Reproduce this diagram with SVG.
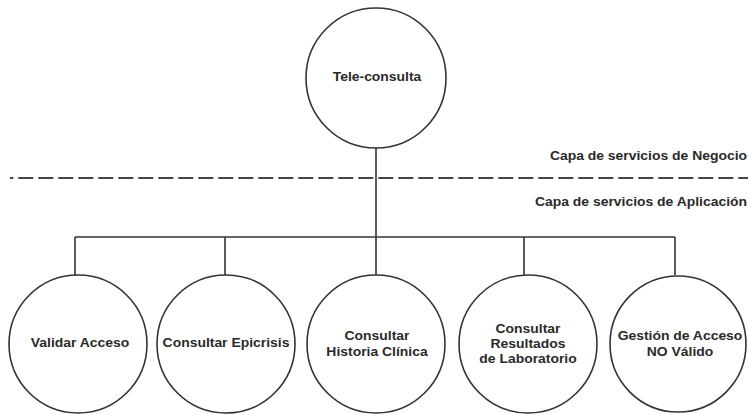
<svg xmlns="http://www.w3.org/2000/svg" width="748" height="414" viewBox="0 0 748 414">
<style>
.node{fill:#fff;stroke:#333;stroke-width:1.6}
.lbl{font-family:"Liberation Sans",Arial,sans-serif;font-weight:bold;font-size:12px;fill:#2a2a2a;text-anchor:middle}
.lay{font-family:"Liberation Sans",Arial,sans-serif;font-weight:bold;font-size:12px;fill:#2a2a2a;text-anchor:end}
.con{stroke:#333;stroke-width:1.6;fill:none}
</style>
<rect width="748" height="414" fill="#fff"/>
<g id="layers">
<line x1="10" y1="178" x2="748" y2="178" stroke="#444" stroke-width="2" stroke-dasharray="15 5" stroke-dashoffset="11.7"/>
<text class="lay" transform="translate(747,160) scale(1.16,1)">Capa de servicios de Negocio</text>
<text class="lay" transform="translate(747,206) scale(1.16,1)">Capa de servicios de Aplicación</text>
</g>
<g id="connectors">
<line class="con" x1="376" y1="148" x2="376" y2="237"/>
<line class="con" x1="75" y1="237" x2="675" y2="237"/>
<line class="con" x1="75" y1="237" x2="75" y2="275"/>
<line class="con" x1="225" y1="237" x2="225" y2="275"/>
<line class="con" x1="376" y1="237" x2="376" y2="275"/>
<line class="con" x1="524" y1="237" x2="524" y2="275"/>
<line class="con" x1="675" y1="237" x2="675" y2="275"/>
</g>
<g id="tele-consulta">
<circle class="node" cx="376" cy="78" r="70"/>
<text class="lbl" transform="translate(377,81) scale(1.16,1)">Tele-consulta</text>
</g>
<g id="validar-acceso">
<circle class="node" cx="78" cy="344" r="69"/>
<text class="lbl" transform="translate(80,347) scale(1.16,1)">Validar Acceso</text>
</g>
<g id="consultar-epicrisis">
<circle class="node" cx="226" cy="344" r="69"/>
<text class="lbl" transform="translate(226,347) scale(1.16,1)">Consultar Epicrisis</text>
</g>
<g id="consultar-historia">
<circle class="node" cx="376" cy="344" r="69"/>
<text class="lbl" transform="translate(377,340) scale(1.16,1)"><tspan x="0">Consultar</tspan><tspan x="0" dy="16">Historia Clínica</tspan></text>
</g>
<g id="consultar-resultados">
<circle class="node" cx="528" cy="344" r="69"/>
<text class="lbl" transform="translate(528,333) scale(1.16,1)"><tspan x="0">Consultar</tspan><tspan x="0" dy="15">Resultados</tspan><tspan x="0" dy="15">de Laboratorio</tspan></text>
</g>
<g id="gestion-acceso">
<circle class="node" cx="678" cy="344" r="68"/>
<text class="lbl" transform="translate(680,340) scale(1.16,1)"><tspan x="0">Gestión de Acceso</tspan><tspan x="0" dy="16">NO Válido</tspan></text>
</g>
</svg>
